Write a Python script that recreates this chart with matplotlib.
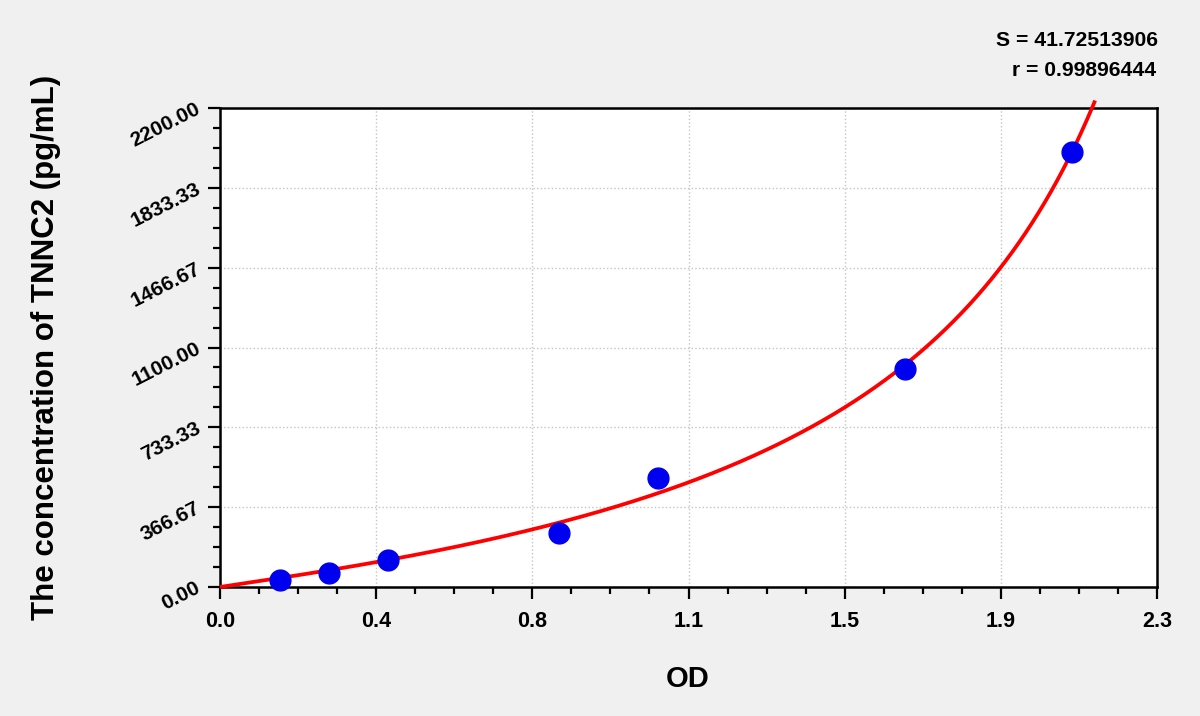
import numpy as np
import matplotlib
matplotlib.use("Agg")
import matplotlib.pyplot as plt
from matplotlib.ticker import AutoMinorLocator

# data
od = [0.147, 0.268, 0.413, 0.831, 1.074, 1.681, 2.091]
conc = [31.25, 62.5, 125, 250, 500, 1000, 2000]
x_ticks = [0.0, 2.3 / 6, 2 * 2.3 / 6, 3 * 2.3 / 6, 4 * 2.3 / 6, 5 * 2.3 / 6, 2.3]
x_labels = ["0.0", "0.4", "0.8", "1.1", "1.5", "1.9", "2.3"]
y_ticks = [0, 2200 / 6, 2 * 2200 / 6, 3 * 2200 / 6, 4 * 2200 / 6, 5 * 2200 / 6, 2200]
y_labels = ["0.00", "366.67", "733.33", "1100.00", "1466.67", "1833.33", "2200.00"]
s_text = "S = 41.72513906"
r_text = "r = 0.99896444"
curve_top = 2237  # the fitted line runs a little past the top of the frame

plt.rcParams['font.family'] = ['Liberation Sans', 'DejaVu Sans']
plt.rcParams['font.weight'] = 'bold'

W, H = 1200, 716
fig = plt.figure(figsize=(12, 7.16), dpi=100, facecolor='#f0f0f0')
ax = fig.add_axes([220 / W, 1 - 587 / H, 937 / W, 479 / H])
ax.set_facecolor('white')

# least-squares fit of conc = C * (OD / (D - OD))**p to the standards
x = np.array(od)
y = np.array(conc, dtype=float)
Dg = np.linspace(2.2, 8.0, 581)[:, None, None]
pg = np.linspace(0.5, 2.5, 401)[None, :, None]
g = (x[None, None, :] / (Dg - x[None, None, :])) ** pg
C = (g * y).sum(-1) / (g * g).sum(-1)
sse = ((C[..., None] * g - y) ** 2).sum(-1)
i, j = np.unravel_index(np.argmin(sse), sse.shape)
D_fit, p_fit, C_fit = Dg[i, 0, 0], pg[0, j, 0], C[i, j]

xf = np.linspace(0.0, 2.3, 2000)
yf = C_fit * (xf / (D_fit - xf)) ** p_fit
keep = yf <= curve_top
ax.plot(xf[keep], yf[keep], color='#ff0000', lw=2.7, clip_on=False, zorder=3,
        solid_capstyle='butt')

ax.plot(od, conc, 'o', color='#0000f0', markersize=15, zorder=4, clip_on=False)

ax.set_xlim(0, 2.3)
ax.set_ylim(0, 2200)
ax.set_xticks(x_ticks)
ax.set_xticklabels(x_labels, fontsize=15.5, fontweight='bold')
ax.set_yticks(y_ticks)
ax.set_yticklabels(y_labels, fontsize=15, fontweight='bold', rotation=27,
                   rotation_mode='anchor', ha='right', va='center')
ax.xaxis.set_minor_locator(AutoMinorLocator(4))
ax.yaxis.set_minor_locator(AutoMinorLocator(4))
ax.tick_params(which='major', direction='out', length=8.5, width=1.6)
ax.tick_params(which='minor', direction='out', length=5, width=1.6)
ax.tick_params(axis='x', which='major', pad=8.5)
ax.tick_params(axis='y', which='major', pad=6.5)
for sp in ax.spines.values():
    sp.set_linewidth(1.8)
ax.grid(True, which='major', color='#c4c4c4', linestyle=':', linewidth=1)

fig.text(688 / W, 1 - 679 / H, 'OD', fontsize=21, fontweight='bold',
         ha='center', va='center')
fig.text(46 / W, 1 - 347 / H, 'The concentration of TNNC2 (pg/mL)', fontsize=22.5,
         fontweight='bold', rotation=90, ha='center', va='center')

fig.text(1158 / W, 1 - 40 / H, s_text, ha='right', va='center', fontsize=15.2,
         fontweight='bold')
fig.text(1156 / W, 1 - 70 / H, r_text, ha='right', va='center', fontsize=15.2,
         fontweight='bold')

fig.savefig('out.png', dpi=100, facecolor=fig.get_facecolor())
